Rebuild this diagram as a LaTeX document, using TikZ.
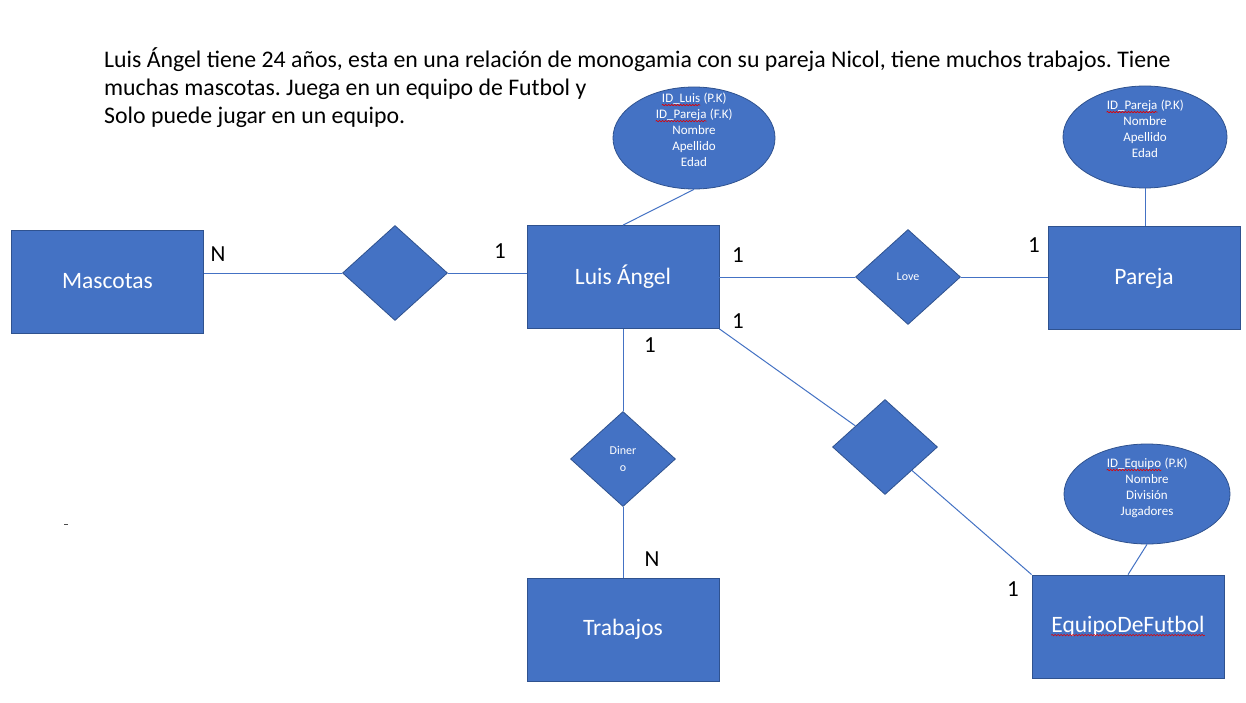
\documentclass[tikz,border=0pt]{standalone}
\usepackage{fontspec}
\setmainfont{Carlito}
\usetikzlibrary{shapes.geometric,decorations.pathmorphing}
\definecolor{boxfill}{HTML}{4472C4}
\definecolor{boxline}{HTML}{2F528F}
\definecolor{squigred}{HTML}{E00000}
\frenchspacing
\newcommand\sq[1]{\tikz[baseline=(sqt.base)]{\node[rectangle, draw=none, fill=none, inner sep=0pt,
    minimum width=0pt, minimum height=0pt, anchor=base] (sqt) at (0,0) {#1};
  \draw[squigred, line width=0.6pt, decorate, decoration={snake, segment length=3pt, amplitude=0.7pt}] ([yshift=-2.4pt]sqt.base west) -- ([yshift=-2.4pt]sqt.base east);}}
\tikzset{
  entity/.style={rectangle, fill=boxfill, draw=boxline, line width=0.8pt, text=white,
    minimum width=192pt, minimum height=103pt, inner sep=0pt,
    font=\fontsize{23.5}{28}\selectfont},
  relation/.style={diamond, fill=boxfill, draw=boxline, line width=0.8pt, text=white,
    minimum width=105pt, minimum height=95pt, inner sep=0pt, aspect=1.1,
    font=\fontsize{12}{17}\selectfont, align=center},
  attrib/.style={ellipse, fill=boxfill, draw=boxline, line width=0.8pt, inner sep=0pt},
  attribtext/.style={text=white, align=center, inner sep=0pt,
    font=\fontsize{13}{16}\selectfont},
  conn/.style={draw=boxfill, line width=1pt},
  card/.style={text=black, inner sep=0pt, font=\fontsize{23}{27}\selectfont},
}
\begin{document}
\begin{tikzpicture}[x=1pt,y=-1pt]
\useasboundingbox[fill=white] (0,0) rectangle (1246,703);

% description
\node[anchor=north west, inner sep=0pt, align=left, font=\fontsize{23.8}{28}\selectfont] (desc) at (104,47)
 {Luis Ángel tiene 24 años, esta en una relación de monogamia con su pareja Nicol, tiene muchos trabajos. Tiene\\
  muchas mascotas. Juega en un equipo de Futbol y\\
  Solo puede jugar en un equipo.};

% entities
\node[entity] (mascotas) at (107.5,281.5) {Mascotas};
\node[entity] (luis) at (623,277) {Luis Ángel};
\node[entity] (pareja) at (1144,278) {Pareja};
\node[entity] (trabajos) at (623,629.5) {Trabajos};
\node[entity] (equipo) at (1128,626.5) {\sq{EquipoDeFutbol}};

% relations
\node[relation] (rmasc) at (395,273) {};
\node[relation] (love) at (908,277) {Love};
\node[relation] (dinero) at (623,459) {Diner\\o};
\node[relation] (requipo) at (885,447) {};

% attributes
\node[attrib, minimum width=162pt, minimum height=102pt] (luisattr) at (694,138) {};
\node[attribtext] (luisattrtext) at (694,130) {\sq{ID\_Luis} (P.K)\\ \sq{ID\_Pareja} (F.K)\\ Nombre\\ Apellido\\ Edad};
\node[attrib, minimum width=164pt, minimum height=102pt] (parejaattr) at (1145,137) {};
\node[attribtext] (parejaattrtext) at (1145,129) {\sq{ID\_Pareja} (P.K)\\ Nombre\\ Apellido\\ Edad};
\node[attrib, minimum width=166pt, minimum height=100pt] (equipoattr) at (1147,494) {};
\node[attribtext] (equipoattrtext) at (1147,488) {\sq{ID\_Equipo} (P.K)\\ Nombre\\ División\\ Jugadores};

% connectors
\draw[conn] (mascotas.east |- rmasc.west) -- (rmasc.west);
\draw[conn] (rmasc.east) -- (rmasc.east -| luis.west);
\draw[conn] (luis.east |- love.west) -- (love.west);
\draw[conn] (love.east) -- (love.east -| pareja.west);
\draw[conn] (luis.north) -- (luisattr.south);
\draw[conn] (parejaattr.south) -- (parejaattr.south |- pareja.north);
\draw[conn] (luis.south) -- (dinero.north);
\draw[conn] (dinero.south) -- (trabajos.north);
\draw[conn] (luis.south east) -- (requipo);
\draw[conn] (requipo) -- (equipo.north west);
\draw[conn] (equipoattr.south) -- (equipo.north);

% cardinalities
\node[card] (cmascN) at (218,254) {N};
\node[card] (cluis1) at (500,251) {1};
\node[card] (cluislove) at (738,255) {1};
\node[card] (cpareja) at (1034,245) {1};
\node[card] (cluiseq) at (738,321) {1};
\node[card] (cluistrab) at (650,345) {1};
\node[card] (ctrabN) at (652,559) {N};
\node[card] (cequipo) at (1013,589) {1};

% stray mark
\coordinate (markA) at (64,524);
\coordinate (markB) at (68,524);
\draw[gray!60!black, line width=1pt] (markA) -- (markB);
\end{tikzpicture}
\end{document}
